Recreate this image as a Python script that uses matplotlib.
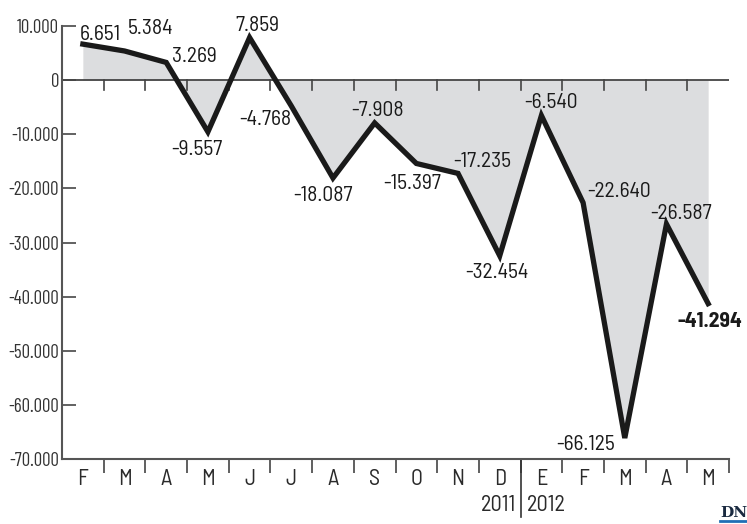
import matplotlib
matplotlib.use("Agg")
import matplotlib.pyplot as plt
import numpy as np

plt.rcParams['font.family'] = ['Barlow Semi Condensed', 'Roboto Condensed', 'DejaVu Sans']
TICKFONT = ['Barlow Condensed', 'Roboto Condensed', 'DejaVu Sans']
AXFONT = ['Barlow Semi Condensed', 'Roboto Condensed', 'DejaVu Sans']

months = ['F', 'M', 'A', 'M', 'J', 'J', 'A', 'S', 'O', 'N', 'D', 'E', 'F', 'M', 'A', 'M']
values = [6651, 5384, 3269, -9557, 7859, -4768, -18087, -7908, -15397, -17235,
          -32454, -6540, -22640, -66125, -26587, -41294]
labels = ['6.651', '5.384', '3.269', '-9.557', '7.859', '-4.768', '-18.087', '-7.908',
          '-15.397', '-17.235', '-32.454', '-6.540', '-22.640', '-66.125', '-26.587', '-41.294']
yticks = [10000, 0, -10000, -20000, -30000, -40000, -50000, -60000, -70000]
ytick_labels = ['10.000', '0', '-10.000', '-20.000', '-30.000', '-40.000', '-50.000', '-60.000', '-70.000']

# label offsets in pixels (dx, dy) from each point
offsets = [(17, 12), (26, 24), (28, 8), (-11, -16), (8, 14), (-26, -12), (-10, -15), (3, 14),
           (-4, -18), (24, 14), (-3, -15), (10, 15), (36, 13), (-39, -4), (15, 13), (2, -16)]

x = np.arange(len(values))

fig = plt.figure(figsize=(7.47, 5.24), dpi=100)
ax = fig.add_axes([62 / 747, 1 - 459 / 524, (729 - 62) / 747, (459 - 26) / 524])

ax.fill_between(x, values, 0, color='#dcdddf', lw=0)
ax.axhline(0, color='#444444', lw=1.3, zorder=2)
ax.plot(x, values, color='#1a1a1a', lw=3.8, solid_joinstyle='miter', zorder=3)

for i, (v, t, off) in enumerate(zip(values, labels, offsets)):
    bold = i == len(values) - 1
    ax.annotate(t, (x[i], v), xytext=off, textcoords='offset pixels',
                ha='center', va='center_baseline', fontsize=15.5, color='#1a1a1a',
                fontweight='bold' if bold else 'normal', annotation_clip=False)

# small ticks down from the zero line at month boundaries
for b in np.arange(0.5, len(values) - 0.5):
    ax.plot([b, b], [0, -1800], color='#444444', lw=1.2, zorder=2)

ax.set_xlim(-0.5, len(values) - 0.5)
ax.set_ylim(-70000, 10000)
ax.set_yticks(yticks)
ax.set_yticklabels(ytick_labels, fontsize=13.5, color='#333333', family=TICKFONT)
ax.tick_params(axis='y', direction='in', length=10, width=1.3, color='#555555', pad=2)

ax.set_xticks(x)
ax.set_xticklabels(months, fontsize=16, color='#2a2a2a', family=AXFONT)
ax.set_xticks(np.arange(0.5, len(values)), minor=True)
ax.tick_params(axis='x', which='major', length=0, pad=7)
ax.tick_params(axis='x', which='minor', direction='out', length=10, width=1.2, color='#444444')

for s in ['top', 'right']:
    ax.spines[s].set_visible(False)
for s in ['left', 'bottom']:
    ax.spines[s].set_color('#555555')
    ax.spines[s].set_linewidth(1.5)

# year separator
ax.plot([10.5, 10.5], [-70000, -80800], color='#333333', lw=1.2, clip_on=False)
ax.text(10.4, -78500, '2011', ha='right', va='center', fontsize=16, color='#2a2a2a', family=AXFONT)
ax.text(10.65, -78500, '2012', ha='left', va='center', fontsize=16, color='#2a2a2a', family=AXFONT)

# DN logo
fig.text(720 / 747, 1 - 513 / 524, 'DN', fontsize=11, fontweight='bold', family='DejaVu Serif',
         ha='left', va='center', color='#1a2a40')
fig.add_artist(plt.Line2D([720 / 747, 1], [1 - 521 / 524, 1 - 521 / 524], color='#1f6fb5', lw=2))

fig.savefig('out.png', dpi=100)
